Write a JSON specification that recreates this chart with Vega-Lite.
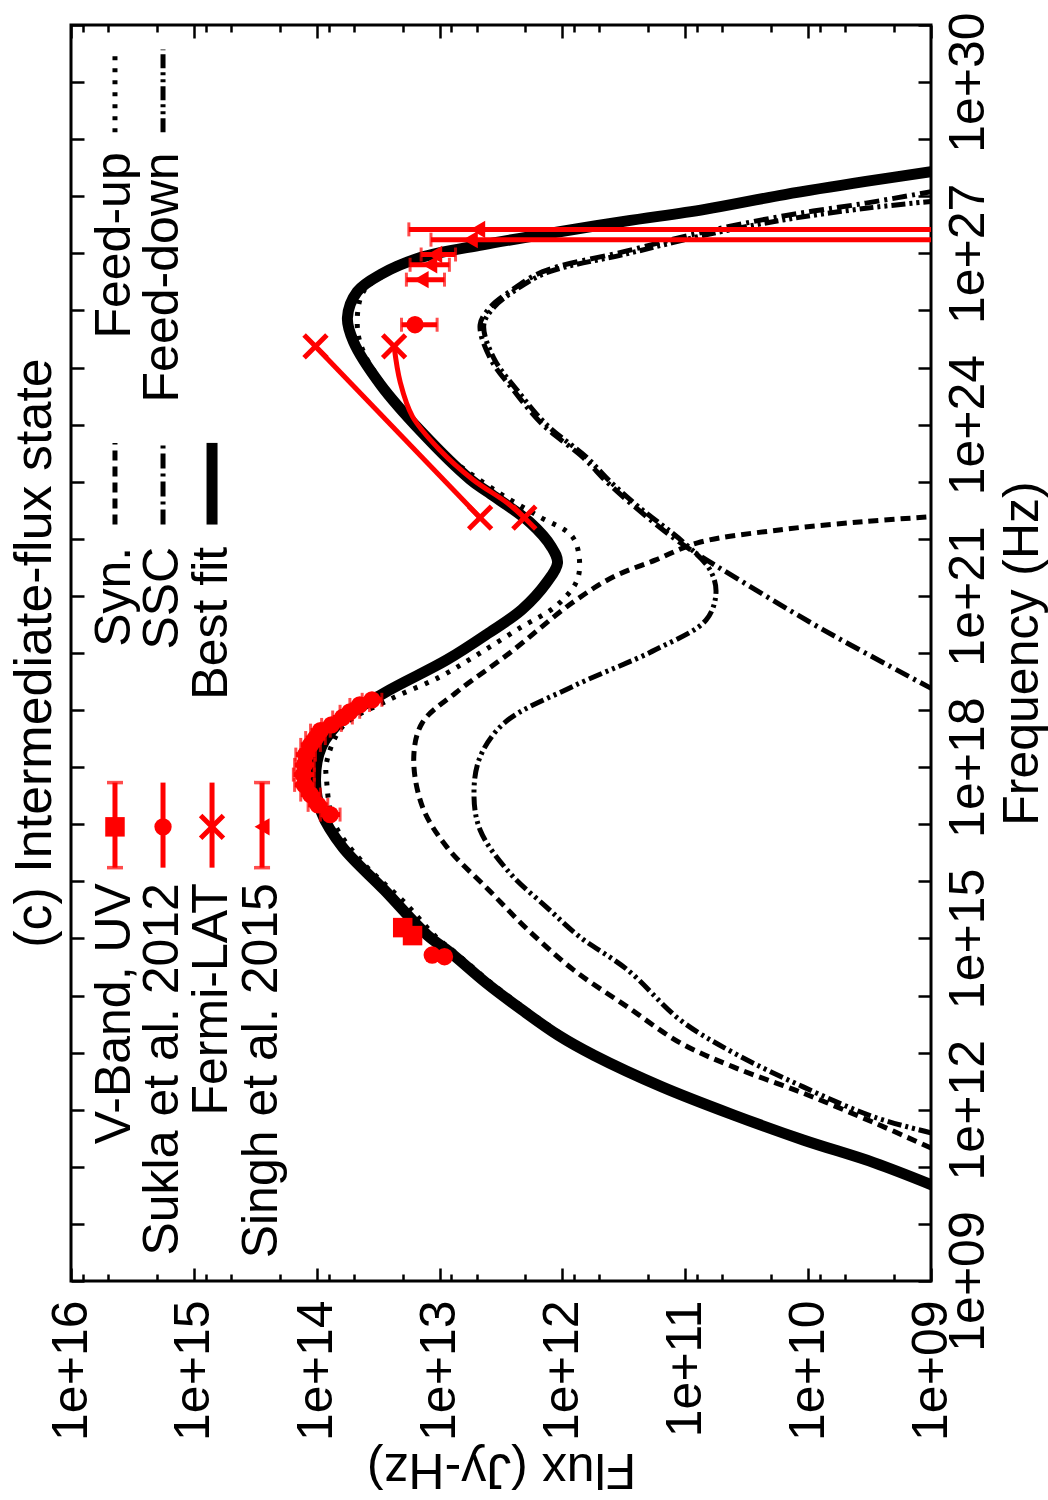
{
  "$schema": "https://vega.github.io/schema/vega-lite/v6.json",
  "width": 860,
  "height": 1256,
  "autosize": {"type": "none"},
  "padding": {"left": 71, "top": 25, "right": 117, "bottom": 219},
  "background": "white",
  "title": {"text": "(c) Intermediate-flux state", "orient": "left", "anchor": "middle", "fontSize": 52, "font": "Liberation Sans", "fontWeight": "normal", "color": "black", "offset": -16},
  "config": {
    "view": {"stroke": "black", "strokeWidth": 3},
    "axis": {"grid": false, "domain": false, "tickColor": "black", "tickWidth": 2.5, "labelFont": "Liberation Sans", "labelFontSize": 50, "labelColor": "black", "titleFont": "Liberation Sans", "titleFontSize": 50, "titleFontWeight": "normal", "titleColor": "black", "labelFlush": false, "labelOverlap": false, "labelBound": false},
    "text": {"font": "Liberation Sans"}
  },
  "datasets": {
    "curves": [
      {"s": "Best fit", "g": "c", "nu": 10.68, "F": 8.99},
      {"s": "Best fit", "g": "c", "nu": 11.07, "F": 9.46},
      {"s": "Best fit", "g": "c", "nu": 11.47, "F": 10.04},
      {"s": "Best fit", "g": "c", "nu": 11.91, "F": 10.61},
      {"s": "Best fit", "g": "c", "nu": 12.40, "F": 11.19},
      {"s": "Best fit", "g": "c", "nu": 12.95, "F": 11.74},
      {"s": "Best fit", "g": "c", "nu": 13.30, "F": 12.03},
      {"s": "Best fit", "g": "c", "nu": 13.75, "F": 12.33},
      {"s": "Best fit", "g": "c", "nu": 14.22, "F": 12.62},
      {"s": "Best fit", "g": "c", "nu": 14.75, "F": 12.91},
      {"s": "Best fit", "g": "c", "nu": 15.06, "F": 13.10},
      {"s": "Best fit", "g": "c", "nu": 15.85, "F": 13.45},
      {"s": "Best fit", "g": "c", "nu": 16.60, "F": 13.79},
      {"s": "Best fit", "g": "c", "nu": 17.20, "F": 13.96},
      {"s": "Best fit", "g": "c", "nu": 17.78, "F": 14.01},
      {"s": "Best fit", "g": "c", "nu": 18.36, "F": 13.96},
      {"s": "Best fit", "g": "c", "nu": 18.83, "F": 13.79},
      {"s": "Best fit", "g": "c", "nu": 19.30, "F": 13.45},
      {"s": "Best fit", "g": "c", "nu": 19.88, "F": 12.94},
      {"s": "Best fit", "g": "c", "nu": 20.35, "F": 12.60},
      {"s": "Best fit", "g": "c", "nu": 20.76, "F": 12.33},
      {"s": "Best fit", "g": "c", "nu": 21.23, "F": 12.13},
      {"s": "Best fit", "g": "c", "nu": 21.58, "F": 12.04},
      {"s": "Best fit", "g": "c", "nu": 21.86, "F": 12.09},
      {"s": "Best fit", "g": "c", "nu": 22.28, "F": 12.26},
      {"s": "Best fit", "g": "c", "nu": 22.81, "F": 12.60},
      {"s": "Best fit", "g": "c", "nu": 23.04, "F": 12.75},
      {"s": "Best fit", "g": "c", "nu": 23.88, "F": 13.15},
      {"s": "Best fit", "g": "c", "nu": 24.70, "F": 13.48},
      {"s": "Best fit", "g": "c", "nu": 25.45, "F": 13.70},
      {"s": "Best fit", "g": "c", "nu": 25.87, "F": 13.75},
      {"s": "Best fit", "g": "c", "nu": 26.33, "F": 13.67},
      {"s": "Best fit", "g": "c", "nu": 26.63, "F": 13.48},
      {"s": "Best fit", "g": "c", "nu": 26.93, "F": 13.15},
      {"s": "Best fit", "g": "c", "nu": 27.15, "F": 12.65},
      {"s": "Best fit", "g": "c", "nu": 27.33, "F": 12.16},
      {"s": "Best fit", "g": "c", "nu": 27.56, "F": 11.50},
      {"s": "Best fit", "g": "c", "nu": 27.77, "F": 10.84},
      {"s": "Best fit", "g": "c", "nu": 28.03, "F": 10.19},
      {"s": "Best fit", "g": "c", "nu": 28.26, "F": 9.53},
      {"s": "Best fit", "g": "c", "nu": 28.43, "F": 9.00},
      {"s": "Best fit", "g": "k", "nu": 22.25, "F": 14.852},
      {"s": "Best fit", "g": "k", "nu": 23.68, "F": 14.852},

      {"s": "Feed-up", "g": "c", "nu": 10.68, "F": 8.95},
      {"s": "Feed-up", "g": "c", "nu": 11.07, "F": 9.42},
      {"s": "Feed-up", "g": "c", "nu": 11.47, "F": 10.00},
      {"s": "Feed-up", "g": "c", "nu": 11.91, "F": 10.57},
      {"s": "Feed-up", "g": "c", "nu": 12.40, "F": 11.15},
      {"s": "Feed-up", "g": "c", "nu": 12.95, "F": 11.70},
      {"s": "Feed-up", "g": "c", "nu": 13.30, "F": 11.99},
      {"s": "Feed-up", "g": "c", "nu": 13.75, "F": 12.29},
      {"s": "Feed-up", "g": "c", "nu": 14.22, "F": 12.58},
      {"s": "Feed-up", "g": "c", "nu": 14.75, "F": 12.87},
      {"s": "Feed-up", "g": "c", "nu": 15.03, "F": 13.03},
      {"s": "Feed-up", "g": "c", "nu": 15.62, "F": 13.28},
      {"s": "Feed-up", "g": "c", "nu": 16.32, "F": 13.62},
      {"s": "Feed-up", "g": "c", "nu": 17.03, "F": 13.86},
      {"s": "Feed-up", "g": "c", "nu": 17.78, "F": 13.92},
      {"s": "Feed-up", "g": "c", "nu": 18.08, "F": 13.92},
      {"s": "Feed-up", "g": "c", "nu": 18.71, "F": 13.79},
      {"s": "Feed-up", "g": "c", "nu": 19.18, "F": 13.41},
      {"s": "Feed-up", "g": "c", "nu": 19.58, "F": 13.00},
      {"s": "Feed-up", "g": "c", "nu": 20.00, "F": 12.67},
      {"s": "Feed-up", "g": "c", "nu": 20.46, "F": 12.33},
      {"s": "Feed-up", "g": "c", "nu": 20.81, "F": 12.06},
      {"s": "Feed-up", "g": "c", "nu": 21.23, "F": 11.89},
      {"s": "Feed-up", "g": "c", "nu": 21.58, "F": 11.86},
      {"s": "Feed-up", "g": "c", "nu": 22.04, "F": 11.92},
      {"s": "Feed-up", "g": "c", "nu": 22.39, "F": 12.19},
      {"s": "Feed-up", "g": "c", "nu": 22.81, "F": 12.52},
      {"s": "Feed-up", "g": "c", "nu": 23.53, "F": 12.98},
      {"s": "Feed-up", "g": "c", "nu": 24.30, "F": 13.31},
      {"s": "Feed-up", "g": "c", "nu": 25.23, "F": 13.61},
      {"s": "Feed-up", "g": "c", "nu": 25.75, "F": 13.67},
      {"s": "Feed-up", "g": "c", "nu": 26.33, "F": 13.62},
      {"s": "Feed-up", "g": "c", "nu": 26.63, "F": 13.44},
      {"s": "Feed-up", "g": "c", "nu": 26.93, "F": 13.10},
      {"s": "Feed-up", "g": "c", "nu": 27.15, "F": 12.60},
      {"s": "Feed-up", "g": "c", "nu": 27.33, "F": 12.11},
      {"s": "Feed-up", "g": "c", "nu": 27.56, "F": 11.45},
      {"s": "Feed-up", "g": "c", "nu": 27.77, "F": 10.79},
      {"s": "Feed-up", "g": "c", "nu": 28.03, "F": 10.14},
      {"s": "Feed-up", "g": "c", "nu": 28.26, "F": 9.48},
      {"s": "Feed-up", "g": "c", "nu": 28.43, "F": 8.95},
      {"s": "Feed-up", "g": "k", "nu": 29.12, "F": 15.642},
      {"s": "Feed-up", "g": "k", "nu": 30.57, "F": 15.642},

      {"s": "Syn.", "g": "c", "nu": 11.33, "F": 9.00},
      {"s": "Syn.", "g": "c", "nu": 11.77, "F": 9.46},
      {"s": "Syn.", "g": "c", "nu": 12.29, "F": 10.04},
      {"s": "Syn.", "g": "c", "nu": 12.75, "F": 10.61},
      {"s": "Syn.", "g": "c", "nu": 13.17, "F": 11.04},
      {"s": "Syn.", "g": "c", "nu": 13.80, "F": 11.47},
      {"s": "Syn.", "g": "c", "nu": 14.45, "F": 11.91},
      {"s": "Syn.", "g": "c", "nu": 15.15, "F": 12.28},
      {"s": "Syn.", "g": "c", "nu": 15.85, "F": 12.60},
      {"s": "Syn.", "g": "c", "nu": 16.60, "F": 12.94},
      {"s": "Syn.", "g": "c", "nu": 17.31, "F": 13.14},
      {"s": "Syn.", "g": "c", "nu": 18.18, "F": 13.21},
      {"s": "Syn.", "g": "c", "nu": 18.78, "F": 13.14},
      {"s": "Syn.", "g": "c", "nu": 19.30, "F": 12.87},
      {"s": "Syn.", "g": "c", "nu": 20.00, "F": 12.43},
      {"s": "Syn.", "g": "c", "nu": 20.88, "F": 11.92},
      {"s": "Syn.", "g": "c", "nu": 21.34, "F": 11.58},
      {"s": "Syn.", "g": "c", "nu": 21.63, "F": 11.24},
      {"s": "Syn.", "g": "c", "nu": 21.93, "F": 10.90},
      {"s": "Syn.", "g": "c", "nu": 22.16, "F": 10.22},
      {"s": "Syn.", "g": "c", "nu": 22.30, "F": 9.55},
      {"s": "Syn.", "g": "c", "nu": 22.39, "F": 8.98},
      {"s": "Syn.", "g": "k", "nu": 22.25, "F": 15.642},
      {"s": "Syn.", "g": "k", "nu": 23.68, "F": 15.642},

      {"s": "SSC", "g": "c", "nu": 19.36, "F": 8.98},
      {"s": "SSC", "g": "c", "nu": 20.41, "F": 9.88},
      {"s": "SSC", "g": "c", "nu": 21.28, "F": 10.56},
      {"s": "SSC", "g": "c", "nu": 21.93, "F": 11.04},
      {"s": "SSC", "g": "c", "nu": 22.56, "F": 11.41},
      {"s": "SSC", "g": "c", "nu": 23.00, "F": 11.64},
      {"s": "SSC", "g": "c", "nu": 23.42, "F": 11.83},
      {"s": "SSC", "g": "c", "nu": 24.00, "F": 12.16},
      {"s": "SSC", "g": "c", "nu": 24.58, "F": 12.39},
      {"s": "SSC", "g": "c", "nu": 25.17, "F": 12.59},
      {"s": "SSC", "g": "c", "nu": 25.75, "F": 12.67},
      {"s": "SSC", "g": "c", "nu": 26.05, "F": 12.59},
      {"s": "SSC", "g": "c", "nu": 26.33, "F": 12.43},
      {"s": "SSC", "g": "c", "nu": 26.68, "F": 12.16},
      {"s": "SSC", "g": "c", "nu": 27.03, "F": 11.50},
      {"s": "SSC", "g": "c", "nu": 27.38, "F": 10.84},
      {"s": "SSC", "g": "c", "nu": 27.66, "F": 10.19},
      {"s": "SSC", "g": "c", "nu": 27.88, "F": 9.53},
      {"s": "SSC", "g": "c", "nu": 28.08, "F": 9.00},
      {"s": "SSC", "g": "k", "nu": 22.25, "F": 15.251},
      {"s": "SSC", "g": "k", "nu": 23.68, "F": 15.251},

      {"s": "Feed-down", "g": "c", "nu": 11.59, "F": 8.99},
      {"s": "Feed-down", "g": "c", "nu": 11.87, "F": 9.46},
      {"s": "Feed-down", "g": "c", "nu": 12.40, "F": 10.04},
      {"s": "Feed-down", "g": "c", "nu": 13.00, "F": 10.61},
      {"s": "Feed-down", "g": "c", "nu": 13.57, "F": 11.04},
      {"s": "Feed-down", "g": "c", "nu": 14.45, "F": 11.47},
      {"s": "Feed-down", "g": "c", "nu": 15.03, "F": 11.86},
      {"s": "Feed-down", "g": "c", "nu": 15.55, "F": 12.13},
      {"s": "Feed-down", "g": "c", "nu": 16.15, "F": 12.43},
      {"s": "Feed-down", "g": "c", "nu": 16.90, "F": 12.67},
      {"s": "Feed-down", "g": "c", "nu": 17.55, "F": 12.72},
      {"s": "Feed-down", "g": "c", "nu": 18.18, "F": 12.67},
      {"s": "Feed-down", "g": "c", "nu": 18.78, "F": 12.47},
      {"s": "Feed-down", "g": "c", "nu": 19.41, "F": 11.92},
      {"s": "Feed-down", "g": "c", "nu": 20.06, "F": 11.24},
      {"s": "Feed-down", "g": "c", "nu": 20.58, "F": 10.83},
      {"s": "Feed-down", "g": "c", "nu": 21.06, "F": 10.75},
      {"s": "Feed-down", "g": "c", "nu": 21.46, "F": 10.80},
      {"s": "Feed-down", "g": "c", "nu": 21.93, "F": 11.01},
      {"s": "Feed-down", "g": "c", "nu": 22.56, "F": 11.38},
      {"s": "Feed-down", "g": "c", "nu": 23.00, "F": 11.61},
      {"s": "Feed-down", "g": "c", "nu": 23.42, "F": 11.80},
      {"s": "Feed-down", "g": "c", "nu": 24.00, "F": 12.13},
      {"s": "Feed-down", "g": "c", "nu": 24.58, "F": 12.36},
      {"s": "Feed-down", "g": "c", "nu": 25.17, "F": 12.56},
      {"s": "Feed-down", "g": "c", "nu": 25.75, "F": 12.64},
      {"s": "Feed-down", "g": "c", "nu": 26.05, "F": 12.56},
      {"s": "Feed-down", "g": "c", "nu": 26.33, "F": 12.40},
      {"s": "Feed-down", "g": "c", "nu": 26.66, "F": 12.13},
      {"s": "Feed-down", "g": "c", "nu": 26.99, "F": 11.48},
      {"s": "Feed-down", "g": "c", "nu": 27.32, "F": 10.84},
      {"s": "Feed-down", "g": "c", "nu": 27.59, "F": 10.19},
      {"s": "Feed-down", "g": "c", "nu": 27.79, "F": 9.53},
      {"s": "Feed-down", "g": "c", "nu": 27.91, "F": 9.00},
      {"s": "Feed-down", "g": "k", "nu": 29.12, "F": 15.251},
      {"s": "Feed-down", "g": "k", "nu": 30.57, "F": 15.251}
    ],
    "fermi": [
      {"ln": "a", "nu": 25.37, "F": 14.01},
      {"ln": "a", "nu": 22.37, "F": 12.67},
      {"ln": "b", "nu": 25.37, "F": 13.37},
      {"ln": "b", "nu": 24.74, "F": 13.32},
      {"ln": "b", "nu": 24.14, "F": 13.22},
      {"ln": "b", "nu": 23.56, "F": 13.00},
      {"ln": "b", "nu": 23.04, "F": 12.73},
      {"ln": "b", "nu": 22.63, "F": 12.45},
      {"ln": "b", "nu": 22.37, "F": 12.31}
    ],
    "red": [
      {"src": "V", "nu": 15.19, "F": 13.30},
      {"src": "V", "nu": 15.05, "F": 13.22},
      {"src": "V", "nu": 16.955, "F": 15.642},
      {"src": "S", "nu": 14.71, "F": 13.06},
      {"src": "S", "nu": 14.68, "F": 12.96},
      {"src": "S", "nu": 17.17, "F": 13.89, "lo": 13.81, "hi": 13.97},
      {"src": "S", "nu": 17.34, "F": 13.99, "lo": 13.91, "hi": 14.07},
      {"src": "S", "nu": 17.52, "F": 14.05, "lo": 13.97, "hi": 14.13},
      {"src": "S", "nu": 17.69, "F": 14.10, "lo": 14.02, "hi": 14.18},
      {"src": "S", "nu": 17.87, "F": 14.11, "lo": 14.02, "hi": 14.19},
      {"src": "S", "nu": 18.04, "F": 14.10, "lo": 14.02, "hi": 14.18},
      {"src": "S", "nu": 18.22, "F": 14.09, "lo": 14.01, "hi": 14.17},
      {"src": "S", "nu": 18.39, "F": 14.05, "lo": 13.97, "hi": 14.13},
      {"src": "S", "nu": 18.51, "F": 14.01, "lo": 13.93, "hi": 14.09},
      {"src": "S", "nu": 18.64, "F": 13.97, "lo": 13.89, "hi": 14.05},
      {"src": "S", "nu": 18.74, "F": 13.88, "lo": 13.80, "hi": 13.96},
      {"src": "S", "nu": 18.87, "F": 13.79, "lo": 13.71, "hi": 13.87},
      {"src": "S", "nu": 18.97, "F": 13.73, "lo": 13.65, "hi": 13.81},
      {"src": "S", "nu": 19.09, "F": 13.65, "lo": 13.57, "hi": 13.73},
      {"src": "S", "nu": 19.18, "F": 13.55, "lo": 13.47, "hi": 13.63},
      {"src": "S", "nu": 25.75, "F": 13.20, "lo": 13.02, "hi": 13.31},
      {"src": "S", "nu": 16.955, "F": 15.251},
      {"src": "F", "nu": 25.37, "F": 14.01},
      {"src": "F", "nu": 25.37, "F": 13.37},
      {"src": "F", "nu": 22.37, "F": 12.67},
      {"src": "F", "nu": 22.37, "F": 12.31},
      {"src": "F", "nu": 16.955, "F": 14.852},
      {"src": "G", "nu": 27.42, "F": 12.69, "lo": 8.0, "hi": 13.25},
      {"src": "G", "nu": 27.24, "F": 12.75, "lo": 8.0, "hi": 13.07},
      {"src": "G", "nu": 26.98, "F": 13.04, "lo": 12.87, "hi": 13.15},
      {"src": "G", "nu": 26.80, "F": 13.08, "lo": 12.92, "hi": 13.24},
      {"src": "G", "nu": 26.54, "F": 13.15, "lo": 12.96, "hi": 13.27},
      {"src": "G", "nu": 16.955, "F": 14.445}
    ],
    "legs": [
      {"src": "V", "F": 15.642, "a": 16.24, "b": 17.73},
      {"src": "S", "F": 15.251, "a": 16.24, "b": 17.73},
      {"src": "F", "F": 14.852, "a": 16.24, "b": 17.73},
      {"src": "G", "F": 14.445, "a": 16.24, "b": 17.73}
    ],
    "legtext": [
      {"t": "V-Band, UV", "F": 15.642, "nu": 15.97},
      {"t": "Sukla et al. 2012", "F": 15.251, "nu": 15.97},
      {"t": "Fermi-LAT", "F": 14.852, "nu": 15.97},
      {"t": "Singh et al. 2015", "F": 14.445, "nu": 15.97},
      {"t": "Syn.", "F": 15.642, "nu": 21.86},
      {"t": "SSC", "F": 15.251, "nu": 21.86},
      {"t": "Best fit", "F": 14.852, "nu": 21.86},
      {"t": "Feed-up", "F": 15.642, "nu": 28.77},
      {"t": "Feed-down", "F": 15.251, "nu": 28.77}
    ]
  },
  "resolve": {"axis": {"x": "independent", "y": "independent"}},
  "layer": [
    {
      "data": {"name": "curves"},
      "transform": [{"filter": "datum.s != 'Best fit'"}],
      "mark": {"type": "line", "clip": true, "color": "black", "interpolate": "catmull-rom"},
      "encoding": {
        "x": {"field": "F", "type": "quantitative", "scale": {"domain": [9, 16], "reverse": true, "nice": false, "zero": false},
              "axis": {"orient": "top", "values": [9, 10, 11, 12, 13, 14, 15, 16], "tickSize": -13, "labels": false, "title": null}},
        "y": {"field": "nu", "type": "quantitative", "scale": {"domain": [9, 31], "nice": false, "zero": false},
              "axis": {"orient": "left", "values": [9,10,11,12,13,14,15,16,17,18,19,20,21,22,23,24,25,26,27,28,29,30,31], "tickSize": -13, "labels": false, "title": null}},
        "detail": [{"field": "s"}, {"field": "g"}],
        "order": {"field": "nu", "type": "quantitative"},
        "strokeDash": {"field": "s", "type": "nominal", "legend": null,
                       "scale": {"domain": ["Syn.", "SSC", "Feed-up", "Feed-down"], "range": [[10, 6], [15, 5, 3, 5], [4, 8], [14, 4, 3, 4, 3, 4]]}},
        "strokeWidth": {"field": "s", "type": "nominal", "legend": null,
                        "scale": {"domain": ["Syn.", "SSC", "Feed-up", "Feed-down"], "range": [5, 5, 5, 4.5]}}
      }
    },
    {
      "data": {"name": "curves"},
      "transform": [{"filter": "datum.s == 'Best fit'"}],
      "mark": {"type": "line", "clip": true, "color": "black", "strokeWidth": 11, "interpolate": "catmull-rom"},
      "encoding": {
        "x": {"field": "F", "type": "quantitative", "scale": {"domain": [9, 16], "reverse": true, "nice": false, "zero": false},
              "axis": {"orient": "bottom", "values": [9, 10, 11, 12, 13, 14, 15, 16], "tickSize": -13, "labelAngle": -90, "labelAlign": "right", "labelBaseline": "middle", "labelPadding": 32,
                       "labelExpr": "'1e+' + (datum.value < 10 ? '0' : '') + datum.value",
                       "title": "Flux (Jy-Hz)", "titleAngle": 180, "titleAlign": "center", "titleBaseline": "alphabetic", "titleX": 430, "titleY": 172}},
        "y": {"field": "nu", "type": "quantitative", "scale": {"domain": [9, 31], "nice": false, "zero": false},
              "axis": {"orient": "right", "values": [9,10,11,12,13,14,15,16,17,18,19,20,21,22,23,24,25,26,27,28,29,30,31], "tickSize": -13, "labelAngle": -90, "labelAlign": "center", "labelBaseline": "top", "labelPadding": 25,
                       "labelExpr": "datum.value % 3 == 0 ? '1e+' + (datum.value < 10 ? '0' : '') + datum.value : ''",
                       "title": "Frequency (Hz)", "titleAngle": 270, "titleAlign": "center", "titleBaseline": "middle", "titleX": 91, "titleY": 628}},
        "detail": {"field": "g"},
        "order": {"field": "nu", "type": "quantitative"}
      }
    },
    {
      "data": {"name": "fermi"},
      "mark": {"type": "line", "clip": true, "color": "red", "strokeWidth": 5, "interpolate": "catmull-rom"},
      "encoding": {
        "x": {"field": "F", "type": "quantitative", "scale": {"domain": [9, 16], "reverse": true, "nice": false, "zero": false},
              "axis": {"orient": "bottom", "values": [9.30103, 9.69897, 9.90309, 10.30103, 10.69897, 10.90309, 11.30103, 11.69897, 11.90309, 12.30103, 12.69897, 12.90309, 13.30103, 13.69897, 13.90309, 14.30103, 14.69897, 14.90309, 15.30103, 15.69897, 15.90309], "tickSize": -7, "labels": false, "title": null}},
        "y": {"field": "nu", "type": "quantitative", "scale": {"domain": [9, 31], "nice": false, "zero": false}, "axis": null},
        "detail": {"field": "ln"},
        "order": {"field": "nu", "type": "quantitative"}
      }
    },
    {
      "data": {"name": "red"},
      "transform": [{"filter": "isValid(datum.lo)"}],
      "mark": {"type": "rule", "clip": true, "color": "red"},
      "encoding": {
        "x": {"field": "lo", "type": "quantitative", "scale": {"domain": [9, 16], "reverse": true, "nice": false, "zero": false},
              "axis": {"orient": "top", "values": [9.30103, 9.69897, 9.90309, 10.30103, 10.69897, 10.90309, 11.30103, 11.69897, 11.90309, 12.30103, 12.69897, 12.90309, 13.30103, 13.69897, 13.90309, 14.30103, 14.69897, 14.90309, 15.30103, 15.69897, 15.90309], "tickSize": -7, "labels": false, "title": null}},
        "x2": {"field": "hi"},
        "y": {"field": "nu", "type": "quantitative", "scale": {"domain": [9, 31], "nice": false, "zero": false}, "axis": null},
        "strokeWidth": {"field": "src", "type": "nominal", "legend": null, "scale": {"domain": ["V", "S", "F", "G"], "range": [4, 4, 4, 3]}}
      }
    },
    {
      "data": {"name": "red"},
      "transform": [{"filter": "isValid(datum.lo)"}],
      "mark": {"type": "tick", "clip": true, "color": "red", "orient": "vertical", "size": 14, "thickness": 3},
      "encoding": {
        "x": {"field": "lo", "type": "quantitative", "scale": {"domain": [9, 16], "reverse": true, "nice": false, "zero": false}, "axis": null},
        "y": {"field": "nu", "type": "quantitative", "scale": {"domain": [9, 31], "nice": false, "zero": false}, "axis": null}
      }
    },
    {
      "data": {"name": "red"},
      "transform": [{"filter": "isValid(datum.hi)"}],
      "mark": {"type": "tick", "clip": true, "color": "red", "orient": "vertical", "size": 14, "thickness": 3},
      "encoding": {
        "x": {"field": "hi", "type": "quantitative", "scale": {"domain": [9, 16], "reverse": true, "nice": false, "zero": false}, "axis": null},
        "y": {"field": "nu", "type": "quantitative", "scale": {"domain": [9, 31], "nice": false, "zero": false}, "axis": null}
      }
    },
    {
      "data": {"name": "legs"},
      "mark": {"type": "rule", "color": "red"},
      "encoding": {
        "x": {"field": "F", "type": "quantitative", "scale": {"domain": [9, 16], "reverse": true, "nice": false, "zero": false}, "axis": null},
        "y": {"field": "a", "type": "quantitative", "scale": {"domain": [9, 31], "nice": false, "zero": false}, "axis": null},
        "y2": {"field": "b"},
        "strokeWidth": {"field": "src", "type": "nominal", "legend": null, "scale": {"domain": ["V", "S", "F", "G"], "range": [5, 5, 5, 3]}}
      }
    },
    {
      "data": {"name": "legs"},
      "transform": [{"filter": "datum.src == 'V' || datum.src == 'G'"}],
      "mark": {"type": "tick", "color": "red", "orient": "horizontal", "size": 16, "thickness": 3.5},
      "encoding": {
        "x": {"field": "F", "type": "quantitative", "scale": {"domain": [9, 16], "reverse": true, "nice": false, "zero": false}, "axis": null},
        "y": {"field": "a", "type": "quantitative", "scale": {"domain": [9, 31], "nice": false, "zero": false}, "axis": null}
      }
    },
    {
      "data": {"name": "legs"},
      "transform": [{"filter": "datum.src == 'V' || datum.src == 'G'"}],
      "mark": {"type": "tick", "color": "red", "orient": "horizontal", "size": 16, "thickness": 3.5},
      "encoding": {
        "x": {"field": "F", "type": "quantitative", "scale": {"domain": [9, 16], "reverse": true, "nice": false, "zero": false}, "axis": null},
        "y": {"field": "b", "type": "quantitative", "scale": {"domain": [9, 31], "nice": false, "zero": false}, "axis": null}
      }
    },
    {
      "data": {"name": "red"},
      "transform": [{"filter": "datum.src == 'V'"}],
      "mark": {"type": "point", "shape": "square", "filled": true, "color": "red", "opacity": 1, "size": 380},
      "encoding": {
        "x": {"field": "F", "type": "quantitative", "scale": {"domain": [9, 16], "reverse": true, "nice": false, "zero": false}, "axis": null},
        "y": {"field": "nu", "type": "quantitative", "scale": {"domain": [9, 31], "nice": false, "zero": false}, "axis": null}
      }
    },
    {
      "data": {"name": "red"},
      "transform": [{"filter": "datum.src == 'S'"}],
      "mark": {"type": "point", "shape": "circle", "filled": true, "color": "red", "opacity": 1, "size": 300},
      "encoding": {
        "x": {"field": "F", "type": "quantitative", "scale": {"domain": [9, 16], "reverse": true, "nice": false, "zero": false}, "axis": null},
        "y": {"field": "nu", "type": "quantitative", "scale": {"domain": [9, 31], "nice": false, "zero": false}, "axis": null}
      }
    },
    {
      "data": {"name": "red"},
      "transform": [{"filter": "datum.src == 'F'"}],
      "mark": {"type": "point", "shape": "M-1,-1L1,1M-1,1L1,-1", "filled": false, "color": "red", "opacity": 1, "strokeWidth": 5, "size": 520},
      "encoding": {
        "x": {"field": "F", "type": "quantitative", "scale": {"domain": [9, 16], "reverse": true, "nice": false, "zero": false}, "axis": null},
        "y": {"field": "nu", "type": "quantitative", "scale": {"domain": [9, 31], "nice": false, "zero": false}, "axis": null}
      }
    },
    {
      "data": {"name": "red"},
      "transform": [{"filter": "datum.src == 'G'"}],
      "mark": {"type": "point", "shape": "triangle-left", "filled": true, "color": "red", "opacity": 1, "size": 300},
      "encoding": {
        "x": {"field": "F", "type": "quantitative", "scale": {"domain": [9, 16], "reverse": true, "nice": false, "zero": false}, "axis": null},
        "y": {"field": "nu", "type": "quantitative", "scale": {"domain": [9, 31], "nice": false, "zero": false}, "axis": null}
      }
    },
    {
      "data": {"name": "legtext"},
      "mark": {"type": "text", "angle": 270, "align": "right", "baseline": "middle", "fontSize": 50, "font": "Liberation Sans", "color": "black"},
      "encoding": {
        "x": {"field": "F", "type": "quantitative", "scale": {"domain": [9, 16], "reverse": true, "nice": false, "zero": false}, "axis": null},
        "y": {"field": "nu", "type": "quantitative", "scale": {"domain": [9, 31], "nice": false, "zero": false}, "axis": null},
        "text": {"field": "t"}
      }
    }
  ]
}
